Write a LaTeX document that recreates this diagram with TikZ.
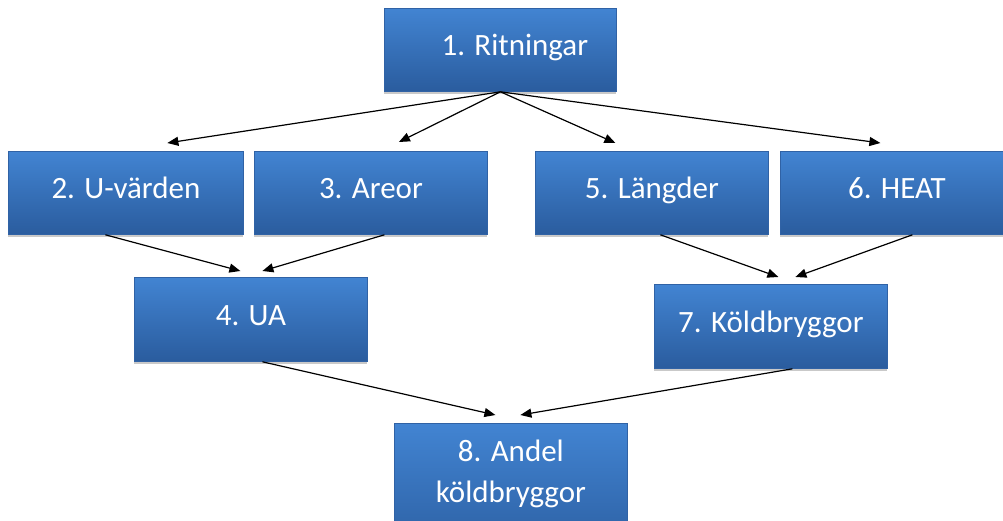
\documentclass[tikz,border=0pt]{standalone}
\usepackage{fontspec}
\setmainfont{Carlito}
\usetikzlibrary{arrows.meta,shadows}
\definecolor{boxtop}{RGB}{66,132,210}
\definecolor{boxbot}{RGB}{42,92,158}
\definecolor{boxedge}{RGB}{48,98,165}
\begin{document}
\begin{tikzpicture}[x=1pt,y=-1pt,
  boxfont/.style={font=\fontsize{31}{41}\selectfont, text=white, align=center},
  stepbox/.style={draw=boxedge, line width=0.8pt, top color=boxtop, bottom color=boxbot,
    boxfont, minimum width=233pt, minimum height=83pt,
    inner sep=0pt, anchor=north west,
    drop shadow={shadow xshift=0pt, shadow yshift=-3pt, fill=black!30, opacity=0.7}},
  onerow/.style={text height=20pt, text depth=8pt},
  link/.style={-{Triangle[length=11pt,width=9pt]}, line width=1.2pt, black}]
\useasboundingbox (0,0) rectangle (1003,521);
\clip (0,0) rectangle (1003,521);

% boxes
\node[stepbox, onerow, minimum width=232pt] (b1) at (384,8) {\hspace*{29pt}1. Ritningar};
\node[stepbox, onerow, minimum width=235pt] (b2) at (8,151) {2. U-värden};
\node[stepbox, onerow] (b3) at (254,151) {3. Areor};
\node[stepbox, onerow] (b5) at (535,151) {5. Längder};
\node[stepbox, onerow] (b6) at (780,151) {6. HEAT};
\node[stepbox, onerow, minimum height=84pt] (b4) at (134,277) {4. UA};
\node[stepbox, onerow, minimum height=84pt] (b7) at (654,284) {7. Köldbryggor};
\node[stepbox, minimum height=140pt] (b8) at (394,423) {};
\node[boxfont, inner sep=0pt, anchor=north] (b8text) at ([yshift=-17pt]b8.north) {8. Andel\\köldbryggor};

% connectors
\draw[link] (b1.south) -- ([shift={(41.5,-8)}]b2.north);
\draw[link] (b1.south) -- ([shift={(28,-9)}]b3.north);
\draw[link] (b1.south) -- ([shift={(-36.5,-8)}]b5.north);
\draw[link] (b1.south) -- ([shift={(-16.5,-8)}]b6.north);
\draw[link] ([xshift=-20.5pt]b2.south) -- ([shift={(-10.5,-6)}]b4.north);
\draw[link] ([xshift=13.5pt]b3.south) -- ([shift={(11.5,-6)}]b4.north);
\draw[link] ([xshift=8.5pt]b5.south) -- ([shift={(7.5,-7)}]b7.north);
\draw[link] ([xshift=15.5pt]b6.south) -- ([shift={(24.5,-7)}]b7.north);
\draw[link] ([xshift=11.5pt]b4.south) -- ([shift={(-15.5,-8)}]b8.north);
\draw[link] ([xshift=21.5pt]b7.south) -- ([shift={(9.5,-8)}]b8.north);
\end{tikzpicture}
\end{document}
